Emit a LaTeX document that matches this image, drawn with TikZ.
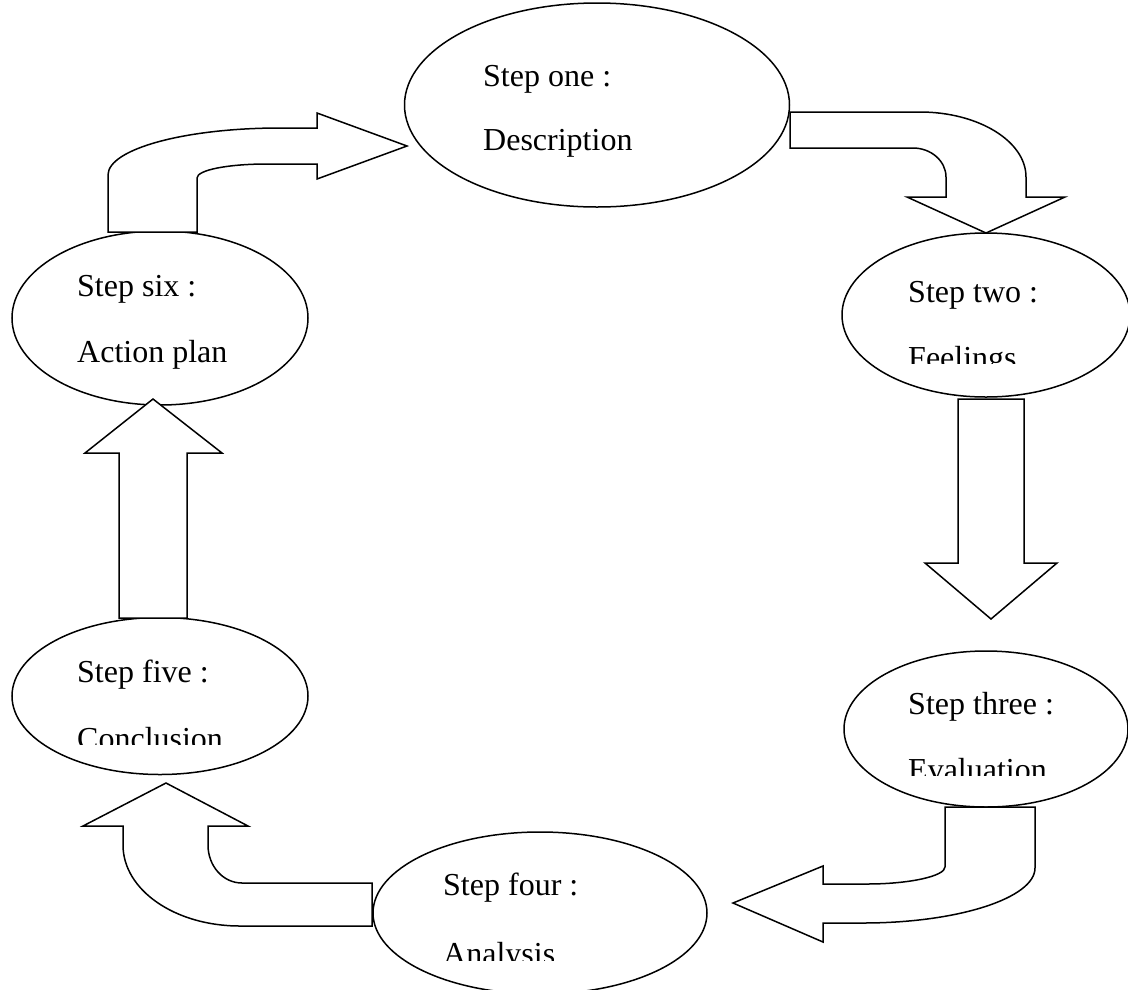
\documentclass[tikz,border=0pt]{standalone}
\usepackage{fontspec}
\setmainfont{Liberation Serif}
\usetikzlibrary{shapes.geometric}
\tikzset{
  stepell/.style={draw, ellipse, line width=1.5pt, inner sep=0pt},
  steptxt/.style={anchor=base west, inner sep=0pt, font=\fontsize{32}{32}\selectfont},
  blockarrow/.style={draw, fill=white, line width=1.5pt, line join=miter}
}
\begin{document}
\begin{tikzpicture}[x=1pt,y=-1pt]
\useasboundingbox (0,0) rectangle (1128,989);
% ellipses
\node[stepell, minimum width=385pt, minimum height=204pt] (e1) at (597,105) {};
\node[stepell, minimum width=288pt, minimum height=164pt] (e2) at (986,315) {};
\node[stepell, minimum width=284pt, minimum height=156pt] (e3) at (986,729) {};
\node[stepell, minimum width=334pt, minimum height=162pt] (e4) at (540,913) {};
\node[stepell, minimum width=296pt, minimum height=157pt] (e5) at (160,696) {};
\node[stepell, minimum width=296pt, minimum height=174pt] (e6) at (160,318) {};
% texts
\node[steptxt] (t1a) at (483,86) {Step one :};
\node[steptxt] (t1b) at (483,150) {Description};
\node[steptxt] (t2a) at (908,302) {Step two :};
\begin{scope}
\clip (800,330) rectangle (1128,363);
\node[steptxt] (t2b) at (908,368) {Feelings};
\end{scope}
\node[steptxt] (t3a) at (908,714) {Step three :};
\begin{scope}
\clip (800,740) rectangle (1128,775);
\node[steptxt] (t3b) at (908,780) {Evaluation};
\end{scope}
\node[steptxt] (t4a) at (443,895) {Step four :};
\begin{scope}
\clip (400,920) rectangle (700,960);
\node[steptxt] (t4b) at (443,964) {Analysis};
\end{scope}
\node[steptxt] (t5a) at (77,682) {Step five :};
\begin{scope}
\clip (30,700) rectangle (300,744);
\node[steptxt] (t5b) at (77,749) {Conclusion};
\end{scope}
\node[steptxt] (t6a) at (77,296) {Step six :};
\node[steptxt] (t6b) at (77,362) {Action plan};
% block arrows
% six -> one
\draw[blockarrow] (108,232) -- (108,175) .. controls (108,149) and (185,128) .. (280,128)
  -- (317,128) -- (317,113) -- (407,146) -- (317,179) -- (317,164) -- (267,164)
  .. controls (228,164) and (197,170) .. (197,178) -- (197,232) -- cycle;
% one -> two
\draw[blockarrow] (790,112) -- (920,112) .. controls (978,112) and (1026,141) .. (1026,177)
  -- (1026,197) -- (1065,197) -- (986,233) -- (907,197) -- (946,197) -- (946,177)
  .. controls (946,161) and (931,148) .. (913,148) -- (790,148) -- cycle;
% two -> three
\draw[blockarrow] (958,399) -- (958,563) -- (925,563) -- (991,619) -- (1057,563)
  -- (1024,563) -- (1024,399) -- cycle;
% three -> four
\draw[blockarrow] (1035,807) -- (1035,868) .. controls (1035,898) and (958,923) .. (863,923)
  -- (823,923) -- (823,942) -- (733,903) -- (823,866) -- (823,884) -- (867,884)
  .. controls (910,884) and (945,876) .. (945,867) -- (945,807) -- cycle;
% four -> five
\draw[blockarrow] (372,926) -- (240,926) .. controls (175,926) and (123,890) .. (123,845)
  -- (123,826) -- (83,826) -- (166,783) -- (248,826) -- (208,826) -- (208,845)
  .. controls (208,866) and (223,883) .. (242,883) -- (372,883) -- cycle;
% five -> six
\draw[blockarrow] (119,618) -- (119,453) -- (85,453) -- (153,399) -- (222,453)
  -- (187,453) -- (187,618) -- cycle;
\end{tikzpicture}
\end{document}
